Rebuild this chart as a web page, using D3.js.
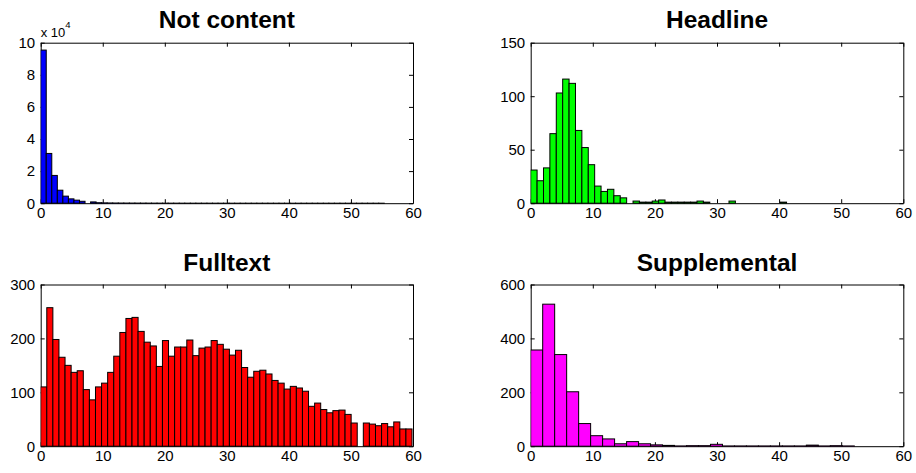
<!DOCTYPE html>
<html>
<head>
<meta charset="utf-8">
<script src="https://cdn.jsdelivr.net/npm/d3@7"></script>
<style>
  html, body { margin: 0; padding: 0; background: #fff; }
  svg { display: block; }
  .tick text { font-family: "Liberation Sans", Arial, Helvetica, sans-serif; font-size: 15px; fill: #000; }
  .title { font-family: "Liberation Sans", Arial, Helvetica, sans-serif; font-weight: bold; font-size: 24.5px; fill: #000; }
  .expo { font-family: "Liberation Sans", Arial, Helvetica, sans-serif; fill: #000; }
</style>
</head>
<body>
<svg id="chart" width="916" height="473"></svg>
<script>
// ---- data (bin counts) ----
const titles = ["Not content", "Headline", "Fulltext", "Supplemental"];
const xTicks = [0, 10, 20, 30, 40, 50, 60];

const notContentBinWidth = 0.893;
const notContentCounts = [95400, 31000, 17300, 8100, 4400, 2700, 1900, 1200, 0, 800,
  300, 200, 150, 120, 100, 90, 80, 70, 60, 50, 45, 40, 35, 30, 28, 26, 24, 22, 20, 18,
  16, 15, 14, 13, 12, 11, 10, 10, 9, 9, 8, 8, 7, 7, 6, 6, 5, 5, 5, 4, 4, 4, 3, 3, 3, 3, 2, 2, 2, 2, 2, 2];
const notContentYTicks = [0, 20000, 40000, 60000, 80000, 100000];

const headlineBinWidth = 1.03;
const headlineCounts = [31, 21, 33, 65, 103, 116, 112, 68, 52, 36, 16, 11, 13, 7, 5, 0, 2, 1, 1, 2,
  3, 1, 1, 1, 1, 1, 2, 1, 0, 0, 0, 2, 0, 0, 0, 0, 0, 0, 0, 1];
const headlineYTicks = [0, 50, 100, 150];

const fulltextBinWidth = 0.981;
const fulltextCounts = [110, 257, 198, 165, 150, 137, 140, 105, 86, 110,
  117, 137, 167, 211, 237, 239, 213, 193, 186, 148,
  196, 167, 184, 184, 197, 168, 182, 184, 196, 189,
  180, 169, 178, 146, 128, 139, 141, 134, 122, 117,
  106, 111, 108, 102, 74, 80, 68, 62, 66, 67,
  59, 43, 0, 43, 41, 38, 42, 36, 45, 32, 32];
const fulltextYTicks = [0, 100, 200, 300];

const supplementalBinWidth = 1.93;
const supplementalCounts = [357, 527, 340, 202, 84, 39, 27, 9, 17, 9, 5, 3, 1, 2, 2, 7,
  1, 1, 1, 1, 1, 1, 1, 4, 1, 2, 1, 0, 0, 0, 0];
const supplementalYTicks = [0, 200, 400, 600];

const colors = ["#0000ff", "#00ff00", "#ff0000", "#ff00ff"];

// ---- layout ----
const svg = d3.select("#chart");
const cols = [{l: 40.7, r: 413}, {l: 530.7, r: 903.3}];
const rows = [{t: 42.7, b: 203.2, titleY: 28.3}, {t: 284.5, b: 446.2, titleY: 271}];

const panels = [
  {title: titles[0], counts: notContentCounts, bw: notContentBinWidth, yTicks: notContentYTicks, yMax: 100000, fmt: d => d / 10000, color: colors[0], c: 0, r: 0, expo: true},
  {title: titles[1], counts: headlineCounts, bw: headlineBinWidth, yTicks: headlineYTicks, yMax: 150, fmt: d => d, color: colors[1], c: 1, r: 0},
  {title: titles[2], counts: fulltextCounts, bw: fulltextBinWidth, yTicks: fulltextYTicks, yMax: 300, fmt: d => d, color: colors[2], c: 0, r: 1},
  {title: titles[3], counts: supplementalCounts, bw: supplementalBinWidth, yTicks: supplementalYTicks, yMax: 600, fmt: d => d, color: colors[3], c: 1, r: 1}
];

panels.forEach((p, i) => {
  const col = cols[p.c], row = rows[p.r];
  const x = d3.scaleLinear().domain([0, 60]).range([col.l, col.r]);
  const y = d3.scaleLinear().domain([0, p.yMax]).range([row.b, row.t]);
  const g = svg.append("g");

  const clipId = "clip" + i;
  svg.append("clipPath").attr("id", clipId).append("rect")
    .attr("x", col.l).attr("y", row.t - 1).attr("width", col.r - col.l).attr("height", row.b - row.t + 2);

  // axes (ticks inward, MATLAB style)
  const ax = (a) => a.tickSizeOuter(0);
  g.append("g").attr("transform", `translate(0,${row.b})`)
    .call(ax(d3.axisBottom(x).tickValues(xTicks).tickSizeInner(-4).tickPadding(4.5).tickFormat(d3.format("d"))));
  g.append("g").attr("transform", `translate(0,${row.t})`)
    .call(ax(d3.axisTop(x).tickValues(xTicks).tickSizeInner(-4).tickFormat("")));
  g.append("g").attr("transform", `translate(${col.l},0)`)
    .call(ax(d3.axisLeft(y).tickValues(p.yTicks).tickSizeInner(-4).tickPadding(5.5).tickFormat(p.fmt)));
  g.append("g").attr("transform", `translate(${col.r},0)`)
    .call(ax(d3.axisRight(y).tickValues(p.yTicks).tickSizeInner(-4).tickFormat("")));
  g.selectAll(".domain").attr("stroke", "#000").attr("stroke-width", 1);
  g.selectAll(".tick line").attr("stroke", "#000").attr("stroke-width", 1);

  // bars
  g.append("g").attr("clip-path", `url(#${clipId})`)
    .selectAll("rect").data(p.counts).join("rect")
    .attr("x", (d, k) => x(k * p.bw))
    .attr("width", x(p.bw) - x(0))
    .attr("y", d => y(d))
    .attr("height", d => y(0) - y(d))
    .attr("fill", p.color)
    .attr("stroke", "#000")
    .attr("stroke-width", 1);

  // title
  svg.append("text").attr("class", "title")
    .attr("x", (col.l + col.r) / 2).attr("y", row.titleY)
    .attr("text-anchor", "middle").text(p.title);

  if (p.expo) {
    const t = svg.append("text").attr("class", "expo").attr("x", col.l).attr("y", 36.5).style("font-size", "13px");
    t.append("tspan").text("x 10");
    t.append("tspan").attr("dy", -9).style("font-size", "9.5px").text("4");
  }
});
</script>
</body>
</html>
